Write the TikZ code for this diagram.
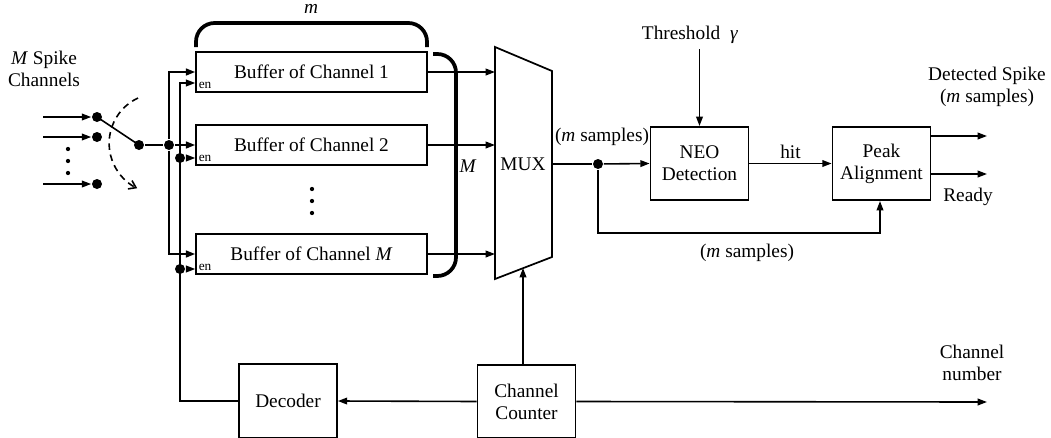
\documentclass[tikz,border=0pt]{standalone}
\usepackage{fontspec}
\setmainfont{Liberation Serif}
\usetikzlibrary{arrows.meta}
\tikzset{
    every node/.style={font=\fontsize{14.5}{16.5}\selectfont},
    buffer/.style={draw, line width=1.3pt, minimum width=173pt, minimum height=29.5pt},
    block/.style={draw, line width=1.3pt, minimum width=73.5pt, minimum height=55pt, align=center},
    dot/.style={circle, fill, inner sep=0pt, minimum size=7.5pt},
    tinydot/.style={circle, fill, inner sep=0pt, minimum size=3.2pt},
    enlabel/.style={font=\fontsize{10}{12}\selectfont, inner sep=2pt},
    brace/.style={line width=2.8pt, rounded corners=14pt},
    wire/.style={line width=1.2pt, -{Triangle[length=7pt,width=5pt]}},
    bus/.style={line width=1.6pt, -{Triangle[length=7pt,width=5pt]}}
}

\begin{document}
\begin{tikzpicture}[x=0.75pt, y=-0.75pt, line width=1.2pt]
    \useasboundingbox (0,0) rectangle (1051,437);

    % Input channels and selector switch
    \node[align=center] (chlbl) at (44,69) {\textit{M} Spike\\Channels};
    \foreach \n/\y in {in1/117, in2/137, inM/184} {
        \coordinate (s\n) at (43,\y);
        \node[dot] (\n) at (97,\y) {};
        \draw[wire] (s\n) -- (\n);
    }
    \foreach \y [count=\i] in {149,161,173}
        \node[tinydot] (vd\i) at (68,\y) {};
    \node[dot] (pivot) at (139,145) {};
    \node[dot] (split) at (169,145) {};
    \draw (in1.center) -- (pivot.center);
    \draw[line width=1.6pt] (pivot) -- (split);
    \coordinate (swtop) at (138,98);
    \draw[dash pattern=on 5pt off 3.5pt, -{Straight Barb[length=5pt,width=7pt]}] (swtop) arc[start angle=245, end angle=116, radius=50];

    % Buffers
    \node[buffer] (b1) at (311.5,72) {Buffer of Channel 1};
    \node[buffer] (b2) at (311.5,145) {Buffer of Channel 2};
    \node[buffer] (bM) at (311.5,254) {Buffer of Channel \textit{M}};
    \foreach \b in {b1,b2,bM}
        \node[enlabel, anchor=south west] (en\b) at (\b.south west) {en};
    \foreach \y [count=\i] in {189,201,213}
        \node[tinydot] (bd\i) at (312,\y) {};

    % Data into the buffers
    \draw[bus] (split) |- (b1.west);
    \draw[bus] (split) -- (b2.west);
    \draw[bus] (split) |- (bM.west);

    % Enable lines from the decoder
    \node[block] (dec) at (288,401) {Decoder};
    \node[dot] (j2) at (180,158) {};
    \node[dot] (jM) at (180,269) {};
    \coordinate (e1) at (180,83);
    \draw[wire] (dec.west) -| (e1) -- (e1 -| b1.west);
    \draw[wire] (j2) -- (j2 -| b2.west);
    \draw[wire] (jM) -- (jM -| bM.west);

    % MUX
    \draw[line width=1.3pt] (495,47) -- (552,71) -- (552,257) -- (495,279) -- cycle;
    \node (mux) at (523,164) {MUX};
    \coordinate (muxw) at (495,164);
    \coordinate (muxe) at (552,164);
    \coordinate (muxs) at (523,268);
    \foreach \b in {b1,b2,bM}
        \draw[wire] (\b.east) -- (\b.east -| muxw);

    % Braces
    \draw[brace] (196,47) |- (311,23) -| (427,47);
    \node (mlbl) at (311,9) {\textit{m}};
    \draw[brace] (433,54) -| (456,165) |- (433,276);
    \node (Mlbl) at (468,166) {\textit{M}};

    % Detection
    \node[dot] (tap) at (598,164) {};
    \node[block] (neo) at (699.5,163.5) {NEO\\Detection};
    \node[block] (peak) at (881.5,163.5) {Peak\\Alignment};
    \draw (muxe) -- (tap);
    \draw[wire] (tap) -- (neo.west);
    \node (smp1) at (602,137) {(\textit{m} samples)};
    \node (thr) at (690,35) {Threshold~~\textit{γ}};
    \draw[wire] (thr.south -| neo.north) -- (neo.north);
    \draw[wire] (neo.east) -- (peak.west) node[midway, above] (hit) {hit};
    \coordinate (fb) at (880,233);
    \draw[wire] (tap) |- (fb) -- (fb |- peak.south);
    \node (smp2) at (747,253) {(\textit{m} samples)};

    % Outputs
    \coordinate (o1) at (987,136);
    \coordinate (o2) at (987,174);
    \draw[wire] (o1 -| peak.east) -- (o1);
    \draw[wire] (o2 -| peak.east) -- (o2);
    \node[align=center] (det) at (987,87) {Detected Spike\\(\textit{m} samples)};
    \node (rdy) at (968,197) {Ready};

    % Channel counter
    \node[block] (cnt) at (526.5,401.5) {Channel\\Counter};
    \draw[wire] (cnt.north -| muxs) -- (muxs);
    \draw[wire] (cnt.west) -- (dec.east);
    \coordinate (chn) at (987,402);
    \draw[wire] (cnt.east) -- (chn);
    \node[align=center] (chnlbl) at (972,363) {Channel\\number};
\end{tikzpicture}
\end{document}
